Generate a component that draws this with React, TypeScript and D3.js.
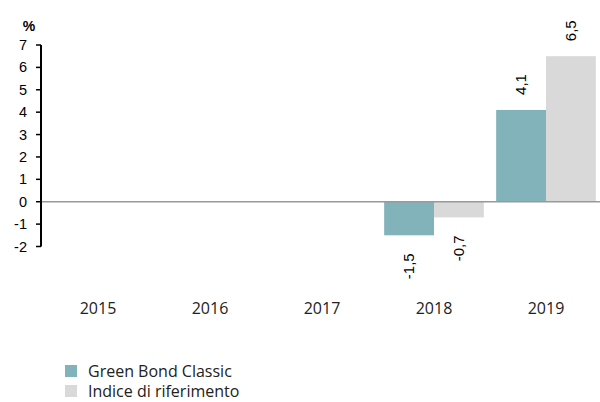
import React from "react";
import * as d3 from "d3";

const categories = ["2015", "2016", "2017", "2018", "2019"];
const seriesNames = ["Green Bond Classic", "Indice di riferimento"];
const fundValues: (number | null)[] = [null, null, null, -1.5, 4.1];
const indexValues: (number | null)[] = [null, null, null, -0.7, 6.5];
const yTicks = [-2, -1, 0, 1, 2, 3, 4, 5, 6, 7];
const colors = ["#82B3BA", "#D9D9D9"];

const W = 600;
const H = 402;

export default function App() {
  const x = d3.scaleBand<string>().domain(categories).range([42, 602]).paddingInner(0.11).paddingOuter(0.055);
  const x1 = d3.scaleBand<string>().domain(seriesNames).range([0, x.bandwidth()]);
  const y = d3.scaleLinear().domain([-2, 7]).range([246.5, 45]);
  const series = [fundValues, indexValues];
  const fmt = (v: number) => d3.format(".1f")(v).replace(".", ",").replace("\u2212", "-");
  const labelFont = "'Liberation Sans', Arial, sans-serif";
  const catFont = "'Open Sans', sans-serif";

  return (
    <svg width={W} height={H} style={{ position: "absolute", left: 0, top: 0 }}>
      <rect width={W} height={H} fill="#fff" />
      {series.map((vals, si) =>
        vals.map((v, i) =>
          v == null ? null : (
            <rect
              key={`b${si}-${i}`}
              x={(x(categories[i]) as number) + (x1(seriesNames[si]) as number)}
              y={y(Math.max(0, v))}
              width={x1.bandwidth()}
              height={Math.abs(y(v) - y(0))}
              fill={colors[si]}
            />
          )
        )
      )}
      <line x1={41} x2={600} y1={y(0)} y2={y(0)} stroke="#999" strokeWidth={1.5} />
      <line x1={41} x2={41} y1={y(7)} y2={y(-2)} stroke="#000" strokeWidth={2} />
      {yTicks.map((t) => (
        <g key={t}>
          <line x1={36} x2={41} y1={y(t)} y2={y(t)} stroke="#000" strokeWidth={1.5} />
          <text x={27} y={y(t)} dy="0.35em" textAnchor="end" fontSize={14.5} fontFamily={labelFont} fill="#000">
            {t}
          </text>
        </g>
      ))}
      <text x={29} y={31} textAnchor="middle" fontSize={14} fontWeight="bold" fontFamily={labelFont} fill="#000">
        %
      </text>
      {series.map((vals, si) =>
        vals.map((v, i) => {
          if (v == null) return null;
          const cx = (x(categories[i]) as number) + (x1(seriesNames[si]) as number) + x1.bandwidth() / 2;
          const ty = v >= 0 ? y(v) - 15 : y(v) + 18;
          return (
            <text
              key={`l${si}-${i}`}
              transform={`translate(${cx},${ty}) rotate(-90)`}
              textAnchor={v >= 0 ? "start" : "end"}
              dy="0.35em"
              fontSize={15}
              fontFamily={labelFont}
              fill="#000"
            >
              {fmt(v)}
            </text>
          );
        })
      )}
      {categories.map((c) => (
        <text
          key={c}
          x={(x(c) as number) + x.bandwidth() / 2}
          y={314}
          textAnchor="middle"
          fontSize={16}
          fontFamily={catFont}
          fill="#222"
        >
          {c}
        </text>
      ))}
      {seriesNames.map((n, i) => (
        <g key={n} transform={`translate(65,${365 + i * 20})`}>
          <rect width={12} height={12} fill={colors[i]} />
          <text x={23} y={12} fontSize={16} fontFamily={catFont} fill="#222">
            {n}
          </text>
        </g>
      ))}
    </svg>
  );
}
